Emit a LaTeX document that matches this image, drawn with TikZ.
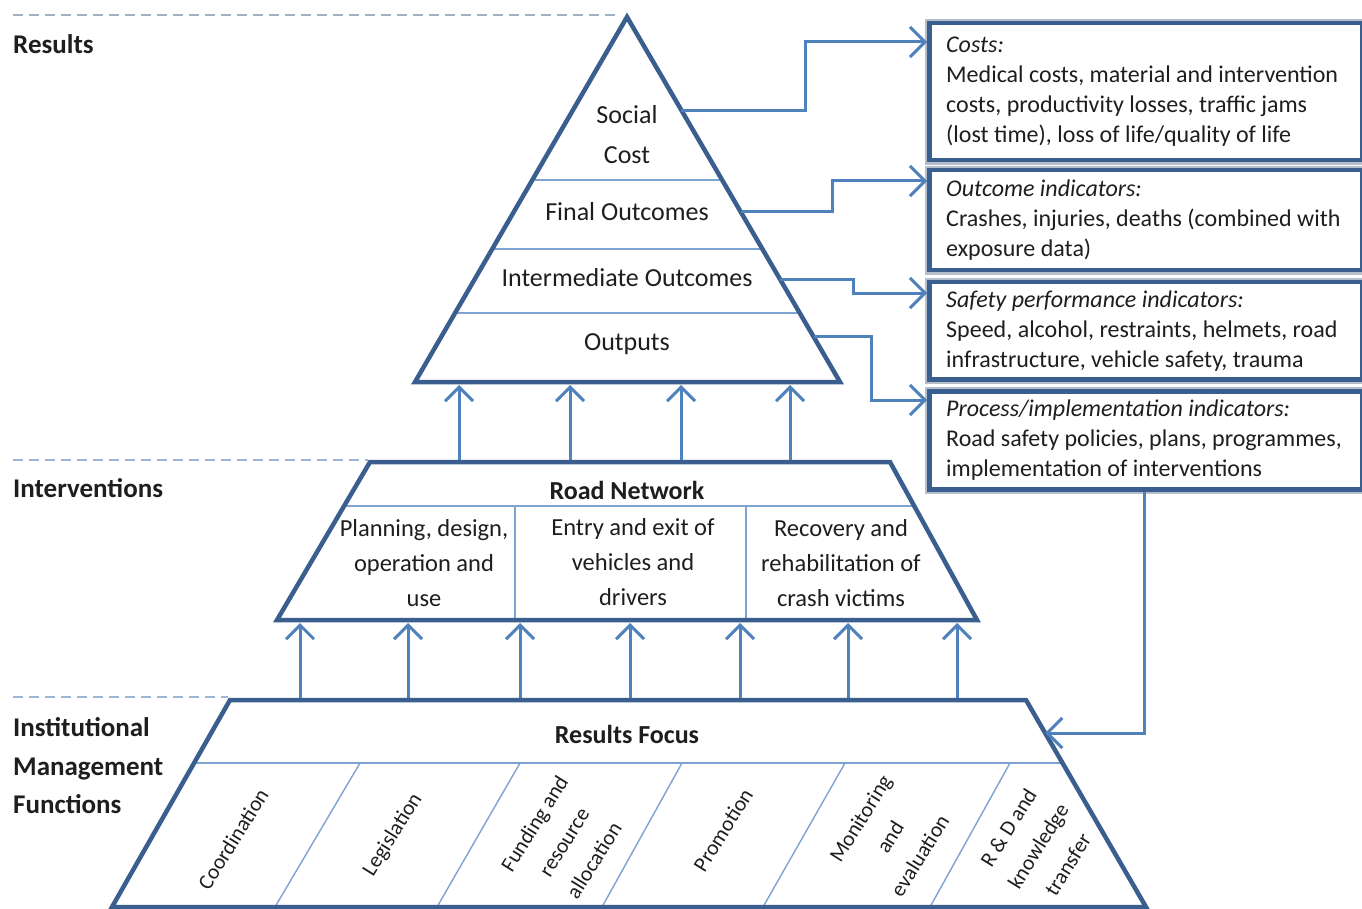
\documentclass[tikz,border=0pt]{standalone}
\usepackage{fontspec}
\setmainfont{Carlito}
\usetikzlibrary{arrows.meta,calc}

\definecolor{edgeblue}{HTML}{3A5F8E}
\definecolor{linkblue}{HTML}{4F81BD}
\definecolor{rulerblue}{HTML}{7EA3D1}
\definecolor{dashblue}{HTML}{9AB5D8}
\definecolor{dashgrey}{HTML}{A3B1C4}
\definecolor{haze}{HTML}{B5BECB}
\definecolor{ink}{HTML}{1E1E1E}

\begin{document}
\begin{tikzpicture}[x=1pt,y=-1pt,
  outline/.style={draw=edgeblue, line width=4.5pt, line join=miter},
  tier/.style={draw=rulerblue, line width=2.6pt},
  slant/.style={draw=rulerblue, line width=1.4pt},
  guide/.style={line width=2.6pt, dash pattern=on 10pt off 6pt},
  link/.style={draw=linkblue, line width=3pt, -{Straight Barb[length=15pt,width=30pt]}},
  lift/.style={draw=linkblue, line width=3pt, -{Straight Barb[length=14pt,width=28pt]}},
  box/.style={draw=edgeblue, line width=4.5pt, fill=white, minimum width=433pt,
    anchor=north west, inner sep=0pt, preaction={draw=haze, line width=9pt}},
  boxtext/.style={anchor=west, align=left, inner sep=0pt, text=ink,
    font=\fontsize{24}{30}\selectfont},
  level/.style={anchor=west, align=left, inner sep=0pt, text=ink,
    font=\bfseries\fontsize{27}{38.5}\selectfont},
  toptext/.style={inner sep=0pt, align=center, text=ink, font=\fontsize{26}{40}\selectfont},
  midtext/.style={inner sep=0pt, align=center, text=ink, font=\fontsize{24.5}{35}\selectfont},
  headtext/.style={inner sep=0pt, text=ink, font=\bfseries\fontsize{26}{32}\selectfont},
  fntext/.style={inner sep=0pt, align=center, rotate=58, text=ink,
    font=\fontsize{21.5}{35}\selectfont},
]
\useasboundingbox (0,0) rectangle (1362,909);
\fill[white] (0,0) rectangle (1362,909);

% ---------- level guides and labels ----------
\coordinate (g1a) at (13,15);  \coordinate (g1b) at (620,15);
\coordinate (g2a) at (13,460); \coordinate (g2b) at (368,460);
\coordinate (g3a) at (13,697); \coordinate (g3b) at (228,697);
\draw[guide, draw=dashgrey] (g1a) -- (g1b);
\draw[guide, draw=dashblue] (g2a) -- (g2b);
\draw[guide, draw=dashblue] (g3a) -- (g3b);

\node[level] (lres) at (13,44) {Results};
\node[level] (lint) at (13,488) {Interventions};
\node[level] (limf) at (13,766) {Institutional\\Management\\Functions};

% ---------- results pyramid ----------
\coordinate (apex) at (627,17);
\coordinate (tl) at (415,382);
\coordinate (tr) at (840,382);
\foreach \t in {0.4466,0.6356,0.811}
  \draw[tier] ($(apex)!\t!(tl)$) -- ($(apex)!\t!(tr)$);
\draw[outline] (apex) -- (tr) -- (tl) -- cycle;

\node[toptext] (social) at (627,135) {Social\\Cost};
\node[toptext] (final) at (627,212) {Final Outcomes};
\node[toptext] (inter) at (627,278) {Intermediate Outcomes};
\node[toptext] (outp) at (627,344) {Outputs};

% ---------- indicator boxes ----------
\node[box, minimum height=137pt] (box1) at (927,21) {};
\node[box, minimum height=100pt] (box2) at (927,168) {};
\node[box, minimum height=97pt]  (box3) at (927,280) {};
\node[box, minimum height=98pt]  (box4) at (927,389) {};

\node[boxtext] (txt1) at ([xshift=19pt]box1.west)
  {\itshape Costs:\\Medical costs, material and intervention\\costs, productivity losses, traffic jams\\(lost time), loss of life/quality of life};
\node[boxtext] (txt2) at ([xshift=19pt]box2.west)
  {\itshape Outcome indicators:\\Crashes, injuries, deaths (combined with\\exposure data)};
\node[boxtext] (txt3) at ([xshift=19pt]box3.west)
  {\itshape Safety performance indicators:\\Speed, alcohol, restraints, helmets, road\\infrastructure, vehicle safety, trauma};
\node[boxtext] (txt4) at ([xshift=19pt]box4.west)
  {\itshape Process/implementation indicators:\\Road safety policies, plans, programmes,\\implementation of interventions};

% connectors from the pyramid layers to the boxes
\coordinate (s1) at ($(apex)!0.2548!(tr)$);
\coordinate (s2) at ($(apex)!0.5342!(tr)$);
\coordinate (s3) at ($(apex)!0.7205!(tr)$);
\coordinate (s4) at ($(apex)!0.8767!(tr)$);
\coordinate (k1) at (805,42);
\coordinate (k2) at (832,181);
\coordinate (k3) at (853,293);
\coordinate (k4) at (871,400);
\draw[link] (s1) -| (k1) -- (box1.west |- k1);
\draw[link] (s2) -| (k2) -- (box2.west |- k2);
\draw[link] (s3) -| (k3) -- (box3.west |- k3);
\draw[link] (s4) -| (k4) -- (box4.west |- k4);

% ---------- interventions tier ----------
\coordinate (m1) at (370,462);
\coordinate (m2) at (890,462);
\coordinate (m3) at (977,620);
\coordinate (m4) at (277,620);
\coordinate (ml) at ($(m1)!0.2785!(m4)$);
\coordinate (mr) at ($(m2)!0.2785!(m3)$);
\draw[tier] (ml) -- (mr);
\draw[tier] (515,506) -- (515,620);
\draw[tier] (746,506) -- (746,620);
\draw[outline] (m1) -- (m2) -- (m3) -- (m4) -- cycle;

\node[headtext] (road) at (627,490) {Road Network};
\node[midtext] (plan) at (424,563) {Planning, design,\\operation and\\use};
\node[midtext] (entry) at (633,562) {Entry and exit of\\vehicles and\\drivers};
\node[midtext] (recov) at (841,563) {Recovery and\\rehabilitation of\\crash victims};

% arrows from the interventions up to the results
\foreach \x [count=\i] in {459,570,681,790} {
  \coordinate (up\i) at (\x,460);
  \coordinate (upt\i) at (\x,385);
  \draw[lift] (up\i) -- (upt\i);
}

% ---------- institutional management tier ----------
\coordinate (b1) at (230,700);
\coordinate (b2) at (1026,700);
\coordinate (b3) at (1146,907);
\coordinate (b4) at (112,907);
\coordinate (bl) at ($(b1)!0.3043!(b4)$);
\coordinate (br) at ($(b2)!0.3043!(b3)$);
\draw[tier] (bl) -- (br);
\foreach \xa/\xb in {360/275,520/437,682/602,845/763,1010/930}
  \draw[slant] (\xa,763) -- (\xb,907);
\draw[outline] (b1) -- (b2) -- (b3) -- (b4) -- cycle;

\node[headtext] (focus) at (627,734) {Results Focus};
\node[fntext] (f1) at (233,839) {Coordination};
\node[fntext] (f2) at (393,835) {Legislation};
\node[fntext] (f3) at (564,842) {Funding and\\resource\\allocation};
\node[fntext] (f4) at (723,830) {Promotion};
\node[fntext] (f5) at (890,837) {Monitoring\\and\\evaluation};
\node[fntext] (f6) at (1038,846) {R \& D and\\knowledge\\transfer};

% arrows from the management functions up to the interventions
\foreach \x [count=\i] in {300,408,520,630,740,848,957} {
  \coordinate (lo\i) at (\x,698);
  \coordinate (lot\i) at (\x,623);
  \draw[lift] (lo\i) -- (lot\i);
}

% feedback from the process indicators to the results focus
\coordinate (drop) at (1144,733);
\coordinate (rf) at ($(b2)!0.1594!(b3)$);
\draw[link] (box4.south -| drop) -- (drop) -- (rf |- drop);
\end{tikzpicture}
\end{document}
